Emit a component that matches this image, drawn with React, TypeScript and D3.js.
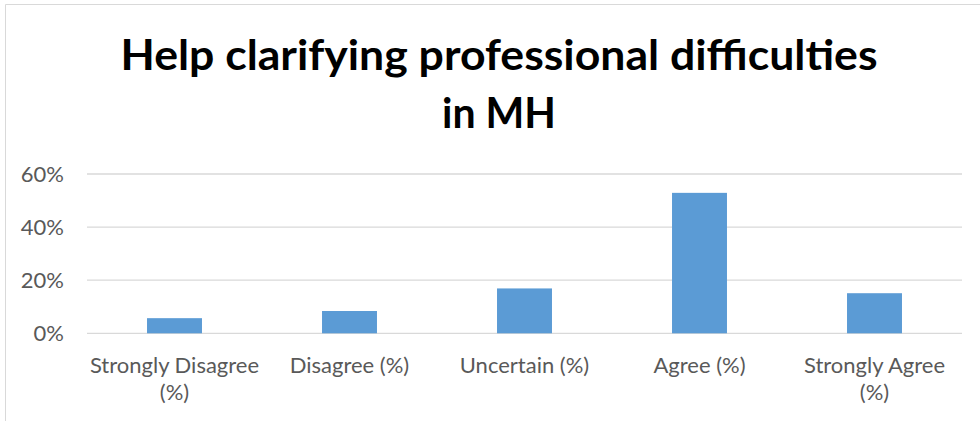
import React, { useEffect, useRef } from "react";
import * as d3 from "d3";

const categories = ["Strongly Disagree (%)", "Disagree (%)", "Uncertain (%)", "Agree (%)", "Strongly Agree (%)"];
const values = [0.057, 0.084, 0.169, 0.529, 0.151];
const yTicks = [0, 0.2, 0.4, 0.6];
const titleLines = ["Help clarifying professional difficulties", "in MH"];

const W = 980;
const H = 421;
const plot = { left: 87, right: 962, top: 174, bottom: 333.3 };

export default function App() {
  const ref = useRef<SVGSVGElement>(null);

  useEffect(() => {
    const svg = d3.select(ref.current);
    svg.selectAll("*").remove();

    // chart border
    svg.append("path")
      .attr("d", `M5.5,${H} L5.5,4.5 L${W},4.5`)
      .attr("fill", "none")
      .attr("stroke", "#d9d9d9")
      .attr("stroke-width", 1);

    const x = d3.scaleBand<string>().domain(categories).range([plot.left, plot.right]).paddingInner(0.686).paddingOuter(0.343);
    const y = d3.scaleLinear().domain([0, 0.6]).range([plot.bottom, plot.top]);

    // title
    const titleLen = [757, 114];
    svg.append("g").selectAll("text").data(titleLines).join("text")
      .attr("x", 499)
      .attr("y", (_, i) => 70 + i * 58)
      .attr("text-anchor", "middle")
      .attr("font-family", "Lato, 'Open Sans', sans-serif")
      .attr("font-weight", "bold")
      .attr("font-size", 42)
      .attr("fill", "#000")
      .attr("textLength", (_, i) => titleLen[i])
      .attr("lengthAdjust", "spacingAndGlyphs")
      .text(d => d);

    // gridlines
    svg.append("g").selectAll("line").data(yTicks).join("line")
      .attr("x1", plot.left).attr("x2", plot.right)
      .attr("y1", d => y(d)).attr("y2", d => y(d))
      .attr("stroke", "#d9d9d9").attr("stroke-width", 1.3);

    // y tick labels
    svg.append("g").selectAll("text").data(yTicks).join("text")
      .attr("x", 64)
      .attr("y", d => y(d))
      .attr("dy", "0.35em")
      .attr("text-anchor", "end")
      .attr("font-family", "Lato, 'Open Sans', sans-serif")
      .attr("font-size", 22)
      .attr("fill", "#595959")
      .text(d => d3.format(".0%")(d));

    // bars
    svg.append("g").selectAll("rect").data(values).join("rect")
      .attr("x", (_, i) => x(categories[i])!)
      .attr("width", x.bandwidth())
      .attr("y", d => y(d))
      .attr("height", d => y(0) - y(d))
      .attr("fill", "#5b9bd5");

    // category labels with wrapping
    const maxW = 171;
    const labels = svg.append("g").selectAll("text").data(categories).join("text")
      .attr("x", d => x(d)! + x.bandwidth() / 2)
      .attr("y", 373)
      .attr("text-anchor", "middle")
      .attr("font-family", "Lato, 'Open Sans', sans-serif")
      .attr("font-size", 22)
      .attr("fill", "#595959");

    labels.each(function (d) {
      const t = d3.select(this);
      const cx = +t.attr("x");
      const words = d.split(" ");
      const lines: string[] = [];
      let cur: string[] = [];
      const probe = t.append("tspan");
      for (const w of words) {
        const test = [...cur, w].join(" ");
        probe.text(test);
        if ((probe.node() as SVGTSpanElement).getComputedTextLength() > maxW && cur.length) {
          lines.push(cur.join(" "));
          cur = [w];
        } else {
          cur.push(w);
        }
      }
      if (cur.length) lines.push(cur.join(" "));
      probe.remove();
      lines.forEach((ln, i) => {
        t.append("tspan").attr("x", cx).attr("y", 373 + i * 27).text(ln);
      });
    });
  }, []);

  return (
    <svg
      ref={ref}
      width={W}
      height={H}
      style={{ position: "absolute", left: 0, top: 0, background: "#fff" }}
    />
  );
}
